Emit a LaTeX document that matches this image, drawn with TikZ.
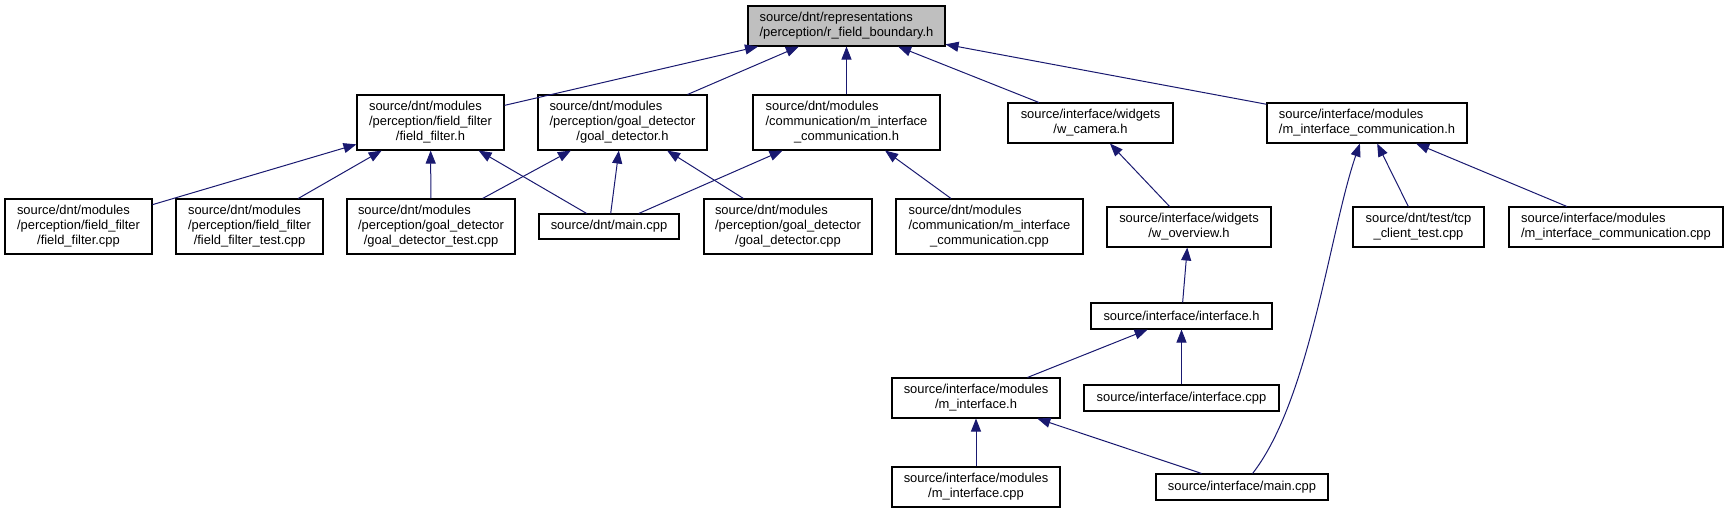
\documentclass[tikz,border=0pt]{standalone}
\usepackage{fontspec}
\setmainfont{Liberation Sans}
\usetikzlibrary{arrows.meta}
\definecolor{edgeblue}{HTML}{191970}
\definecolor{rootgray}{HTML}{BFBFBF}
\def\flbl#1#2{\begin{tabular}{@{}l@{}}#1\\\multicolumn{1}{@{}c@{}}{#2}\end{tabular}}

\begin{document}
\begin{tikzpicture}[x=0.75pt, y=-0.75pt,
		file/.style={draw=black, line width=0.8pt, fill=white, inner sep=0pt, font=\fontsize{9.7}{11.25}\selectfont},
		sz/.style 2 args={minimum width=#1*0.75pt, minimum height=#2*0.75pt},
		dep/.style={draw=edgeblue, line width=0.75pt, -{Triangle[length=9.75pt,width=7.5pt]}}]
			%%%%% START %%%%%
			\useasboundingbox (0, 0) rectangle (1729, 513);
			
			\node[file, sz={197}{40}, fill=rootgray] (root) at (846.5, 26) {\flbl{source/dnt/representations}{/perception/r\_field\_boundary.h}};
			
			\node[file, sz={147}{55}] (ffh) at (430.5, 122.5) {\flbl{source/dnt/modules\\/perception/field\_filter}{/field\_filter.h}};
			\node[file, sz={169}{55}] (gdh) at (622.5, 122.5) {\flbl{source/dnt/modules\\/perception/goal\_detector}{/goal\_detector.h}};
			\node[file, sz={187}{55}] (cmh) at (846.5, 122.5) {\flbl{source/dnt/modules\\/communication/m\_interface}{\_communication.h}};
			\node[file, sz={165}{40}] (wcam) at (1090.5, 123) {\flbl{source/interface/widgets}{/w\_camera.h}};
			\node[file, sz={200}{40}] (imch) at (1367, 123) {\flbl{source/interface/modules}{/m\_interface\_communication.h}};
			
			\node[file, sz={147}{55}] (ffcpp) at (78.5, 226.5) {\flbl{source/dnt/modules\\/perception/field\_filter}{/field\_filter.cpp}};
			\node[file, sz={147}{55}] (fftest) at (249.5, 226.5) {\flbl{source/dnt/modules\\/perception/field\_filter}{/field\_filter\_test.cpp}};
			\node[file, sz={168}{55}] (gdtest) at (431, 226.5) {\flbl{source/dnt/modules\\/perception/goal\_detector}{/goal\_detector\_test.cpp}};
			\node[file, sz={140}{25}] (dntmain) at (609, 226.5) {source/dnt/main.cpp};
			\node[file, sz={168}{55}] (gdcpp) at (788, 226.5) {\flbl{source/dnt/modules\\/perception/goal\_detector}{/goal\_detector.cpp}};
			\node[file, sz={187}{55}] (cmcpp) at (989.5, 226.5) {\flbl{source/dnt/modules\\/communication/m\_interface}{\_communication.cpp}};
			\node[file, sz={164}{40}] (wov) at (1189, 227) {\flbl{source/interface/widgets}{/w\_overview.h}};
			\node[file, sz={131}{40}] (tcp) at (1418.5, 227) {\flbl{source/dnt/test/tcp}{\_client\_test.cpp}};
			\node[file, sz={214}{40}] (imcpp) at (1616, 227) {\flbl{source/interface/modules}{/m\_interface\_communication.cpp}};
			
			\node[file, sz={181}{26}] (ifh) at (1181.5, 316) {source/interface/interface.h};
			\node[file, sz={168}{40}] (mih) at (976, 398) {\flbl{source/interface/modules}{/m\_interface.h}};
			\node[file, sz={195}{26}] (ifcpp) at (1181.5, 398) {source/interface/interface.cpp};
			\node[file, sz={168}{40}] (micpp) at (976, 487) {\flbl{source/interface/modules}{/m\_interface.cpp}};
			\node[file, sz={172}{26}] (imain) at (1242, 487) {source/interface/main.cpp};
			
			% includes of the root header
			\draw[dep] (ffh) -- (root);
			\draw[dep] (gdh) -- (root);
			\draw[dep] (cmh) -- (root);
			\draw[dep] (wcam) -- (root);
			\draw[dep] (imch) -- (root);
			
			\draw[dep] (ffcpp) -- (ffh);
			\draw[dep] (fftest) -- (ffh);
			\draw[dep] (gdtest) -- (ffh);
			\draw[dep] (dntmain) -- (ffh);
			
			\draw[dep] (gdtest) -- (gdh);
			\draw[dep] (dntmain) -- (gdh);
			\draw[dep] (gdcpp) -- (gdh);
			
			\draw[dep] (dntmain) -- (cmh);
			\draw[dep] (cmcpp) -- (cmh);
			
			\draw[dep] (wov) -- (wcam);
			\draw[dep] (ifh) -- (wov);
			\draw[dep] (mih) -- (ifh);
			\draw[dep] (ifcpp) -- (ifh);
			\draw[dep] (micpp) -- (mih);
			\draw[dep] (imain) -- (mih);
			
			\draw[dep] (imain) .. controls (1310, 400) and (1330, 230) .. (imch);
			\draw[dep] (tcp) -- (imch);
			\draw[dep] (imcpp) -- (imch);
			
			%%%%% END %%%%%
		\end{tikzpicture}
\end{document}
